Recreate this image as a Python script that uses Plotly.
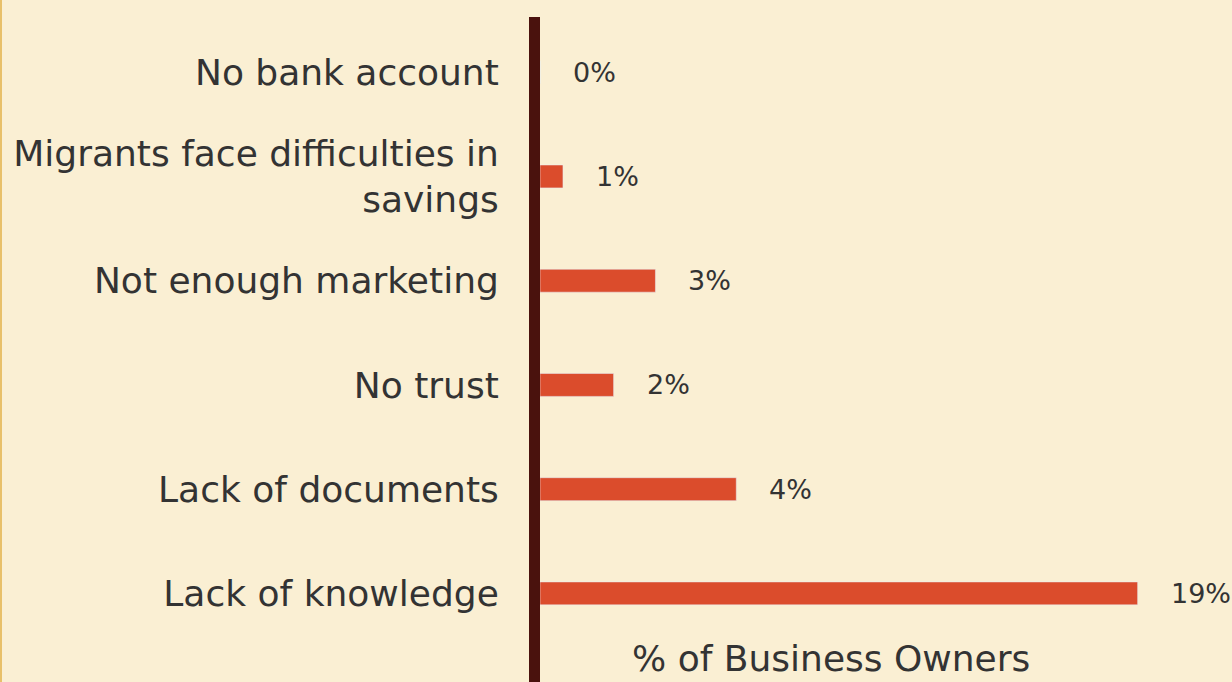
import plotly.graph_objects as go

categories = [
    "No bank account",
    "Migrants face difficulties in<br>savings",
    "Not enough marketing",
    "No trust",
    "Lack of documents",
    "Lack of knowledge",
]
bar_values = [0, 0.73, 3.67, 2.34, 6.24, 19.0]
value_labels = ["0%", "1%", "3%", "2%", "4%", "19%"]

BG = "#FAEFD3"
BAR = "#DB4C2C"
AXIS = "#4A120D"
TEXT = "#333333"
FONT = "DejaVu Sans"

fig = go.Figure(
    go.Bar(
        x=bar_values,
        y=categories,
        orientation="h",
        marker_color=BAR,
        width=0.22,
        hoverinfo="skip",
    )
)

for cat, val, lab in zip(categories, bar_values, value_labels):
    fig.add_annotation(
        x=val, y=cat, text=lab, showarrow=False,
        xanchor="left", xshift=31,
        font=dict(family=FONT, size=27, color=TEXT),
    )

fig.add_annotation(
    x=0.42, y=0.036, xref="paper", yref="paper", text="% of Business Owners",
    showarrow=False, xanchor="center", yanchor="middle",
    font=dict(family=FONT, size=36, color=TEXT),
)

# thin orange edge at the left side of the page
fig.add_shape(
    type="line", xref="paper", yref="paper",
    x0=-539 / 692, x1=-539 / 692, y0=-0.1, y1=1.1,
    line=dict(color="#E8C06A", width=2),
)

fig.update_layout(
    width=1232,
    height=682,
    paper_bgcolor=BG,
    plot_bgcolor=BG,
    margin=dict(l=540, r=0, t=17, b=0),
    showlegend=False,
    font=dict(family=FONT, color=TEXT),
    xaxis=dict(
        range=[0, 22], showgrid=False, zeroline=False,
        showticklabels=False, showline=False,
    ),
    yaxis=dict(
        autorange=False, range=[5.85, -0.53], showgrid=False, zeroline=False,
        showline=True, linecolor=AXIS, linewidth=11,
        ticks="", ticklabelstandoff=23,
        tickfont=dict(family=FONT, size=36, color=TEXT),
    ),
)

fig.write_html(
    "out.html",
    config={"displayModeBar": False},
    post_script="document.body.style.margin='0';",
)
